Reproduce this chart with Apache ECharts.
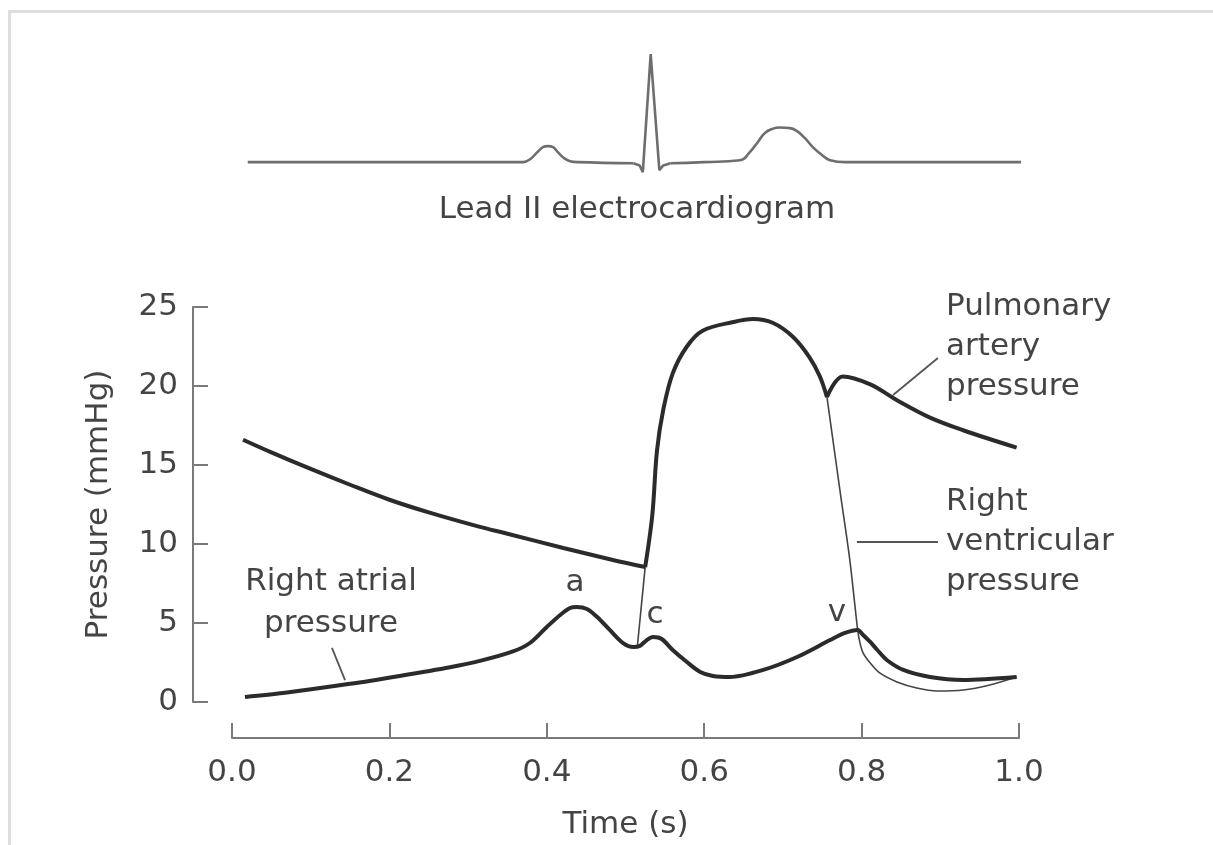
<!DOCTYPE html>
<html>
<head>
<meta charset="utf-8">
<script src="https://cdn.jsdelivr.net/npm/echarts@6/dist/echarts.min.js"></script>
<style>
html,body{margin:0;padding:0;background:#fff;}
#chart{width:1213px;height:845px;}
</style>
</head>
<body>
<div id="chart"></div>
<script>
// ---------- Data (time in s, pressure in mmHg, ECG in relative units) ----------
const xTickLabels = ['0.0', '0.2', '0.4', '0.6', '0.8', '1.0'];
const yTickLabels = ['0', '5', '10', '15', '20', '25'];

// Lead II ECG
const ecgPWave = [[0.020,0],[0.370,0],[0.379,0.028],[0.388,0.092],[0.395,0.138],[0.4015,0.147],[0.408,0.138],[0.414,0.092],[0.422,0.037],[0.4295,0.009],[0.440,0],[0.510,-0.01]];
const ecgQRS = [[0.510,-0.01],[0.518,-0.03],[0.522,-0.092],[0.532,0.99],[0.543,-0.073],[0.548,-0.03],[0.557,-0.01]];
const ecgTWave = [[0.557,-0.01],[0.600,0],[0.6455,0.018],[0.658,0.092],[0.668,0.183],[0.677,0.266],[0.686,0.303],[0.696,0.317],[0.709,0.312],[0.718,0.284],[0.728,0.220],[0.738,0.138],[0.750,0.064],[0.760,0.018],[0.779,0],[1.008,0]];

// Pulmonary artery pressure (diastolic run-off)
const paDiastole = [[0.014,16.6],[0.05,15.8],[0.1,14.75],[0.15,13.75],[0.2,12.8],[0.25,12.0],[0.315,11.08],[0.35,10.65],[0.421,9.75],[0.484,8.99],[0.525,8.54]];
// Ejection: right ventricle = pulmonary artery
const ejection = [[0.525,8.54],[0.534,11.8],[0.540,15.9],[0.548,18.5],[0.560,20.8],[0.578,22.5],[0.598,23.5],[0.637,24.05],[0.662,24.24],[0.687,24.0],[0.713,23.1],[0.734,21.8],[0.747,20.6],[0.756,19.3]];
// Pulmonary artery after the dicrotic notch
const paLate = [[0.756,19.3],[0.776,20.6],[0.811,20.1],[0.845,19.1],[0.887,18.0],[0.929,17.2],[0.997,16.1]];
// Right ventricular pressure (thin): isovolumic contraction & relaxation / filling
const rvContraction = [[0.515,3.48],[0.525,8.54]];
const rvRelaxation = [[0.756,19.3],[0.773,13.2],[0.785,9.0],[0.795,4.56],[0.798,3.73],[0.802,3.10],[0.811,2.47],[0.823,1.84],[0.845,1.27],[0.870,0.89],[0.896,0.70],[0.929,0.76],[0.963,1.08],[0.997,1.58]];
// Right atrial pressure
const raPressure = [[0.0165,0.32],[0.065,0.57],[0.150,1.15],[0.213,1.65],[0.277,2.2],[0.315,2.6],[0.357,3.2],[0.379,3.75],[0.400,4.75],[0.417,5.51],[0.4295,5.95],[0.438,6.01],[0.451,5.89],[0.464,5.38],[0.480,4.56],[0.497,3.73],[0.510,3.48],[0.518,3.54],[0.527,3.92],[0.535,4.11],[0.546,3.99],[0.560,3.29],[0.578,2.53],[0.595,1.90],[0.611,1.65],[0.633,1.58],[0.675,2.03],[0.718,2.85],[0.760,3.92],[0.779,4.37],[0.795,4.56],[0.802,4.24],[0.811,3.80],[0.820,3.29],[0.832,2.66],[0.853,2.03],[0.887,1.58],[0.929,1.39],[0.997,1.58]];

// Leader lines (data coordinates)
const paLeader = [[0.840,19.43],[0.897,21.77]];
const rvLeader = [[0.794,10.13],[0.897,10.13]];
const raLeader = [[0.127,3.42],[0.1436,1.39]];

// ---------- Chart ----------
const FONT = '"DejaVu Sans", "Liberation Sans", sans-serif';
const FS = 31;
const TXT = '#444';
const AX = '#7a7a7a';
const chart = echarts.init(document.getElementById('chart'), null, {renderer: 'canvas'});

function leader(coords) {
  return {
    silent: true, symbol: ['none','none'], animation: false,
    label: {show: false}, emphasis: {disabled: true},
    lineStyle: {color: '#555', width: 1.8, type: 'solid'},
    data: [[{coord: coords[0]}, {coord: coords[1]}]]
  };
}
function thick(data, extra) {
  return Object.assign({type: 'line', xAxisIndex: 1, yAxisIndex: 1, data, showSymbol: false, symbol: 'none',
    smooth: 0.35, lineStyle: {color: '#2b2b2b', width: 4}, z: 5, silent: true}, extra || {});
}
function ecg(data, smooth) {
  return {type: 'line', xAxisIndex: 0, yAxisIndex: 0, data, showSymbol: false, symbol: 'none', clip: false,
    smooth: smooth, lineStyle: {color: '#6e6e6e', width: 2.6}, silent: true};
}
function txt(text, x, y, align, lh) {
  return {type: 'text', x, y, silent: true, style: {text, font: FS + 'px ' + FONT, fill: TXT,
    align: align, textAlign: align, verticalAlign: 'middle', textVerticalAlign: 'middle', lineHeight: lh || 40}};
}

chart.setOption({
  animation: false,
  backgroundColor: '#fff',
  grid: [
    {left: 232, width: 787, top: 53, height: 131},
    {left: 232, width: 787, top: 307, height: 395}
  ],
  xAxis: [
    {gridIndex: 0, type: 'value', min: 0, max: 1, show: false},
    {gridIndex: 1, type: 'value', min: 0, max: 1, interval: 0.2, offset: 36, position: 'bottom',
     axisLine: {show: true, onZero: false, lineStyle: {color: AX, width: 2}},
     axisTick: {show: true, inside: true, length: 15, lineStyle: {color: AX, width: 2}},
     axisLabel: {margin: 19, color: TXT, fontSize: FS, fontFamily: FONT,
       formatter: (v) => xTickLabels[Math.round(v / 0.2)] || ''},
     splitLine: {show: false},
     name: 'Time (s)', nameLocation: 'middle', nameGap: 71,
     nameTextStyle: {color: TXT, fontSize: FS, fontFamily: FONT}}
  ],
  yAxis: [
    {gridIndex: 0, type: 'value', min: -0.2, max: 1.0, show: false},
    {gridIndex: 1, type: 'value', min: 0, max: 25, interval: 5, offset: 39, position: 'left',
     axisLine: {show: true, onZero: false, lineStyle: {color: AX, width: 2}},
     axisTick: {show: true, inside: true, length: 15, lineStyle: {color: AX, width: 2}},
     axisLabel: {margin: 15, color: TXT, fontSize: FS, fontFamily: FONT,
       formatter: (v) => yTickLabels[Math.round(v / 5)] || ''},
     splitLine: {show: false},
     name: 'Pressure (mmHg)', nameLocation: 'middle', nameGap: 79, nameRotate: 90,
     nameTextStyle: {color: TXT, fontSize: FS, fontFamily: FONT}}
  ],
  series: [
    ecg(ecgPWave, 0.4),
    ecg(ecgQRS, false),
    ecg(ecgTWave, 0.5),
    {type: 'line', xAxisIndex: 1, yAxisIndex: 1, data: rvContraction, showSymbol: false, symbol: 'none',
     lineStyle: {color: '#444', width: 1.6}, z: 3, silent: true},
    {type: 'line', xAxisIndex: 1, yAxisIndex: 1, data: rvRelaxation, showSymbol: false, symbol: 'none', smooth: 0.3,
     lineStyle: {color: '#444', width: 1.6}, z: 3, silent: true, markLine: leader(rvLeader)},
    thick(paDiastole),
    thick(ejection),
    thick(paLate, {markLine: leader(paLeader)}),
    thick(raPressure, {smooth: 0.3, markLine: leader(raLeader)})
  ],
  graphic: [
    {type: 'line', silent: true, shape: {x1: 8, y1: 11.5, x2: 1213, y2: 11.5}, style: {stroke: '#dedede', lineWidth: 3}},
    {type: 'line', silent: true, shape: {x1: 9.5, y1: 10, x2: 9.5, y2: 845}, style: {stroke: '#dedede', lineWidth: 3}},
    txt('Lead II electrocardiogram', 637, 210, 'center'),
    txt('a', 575, 583, 'center'),
    txt('c', 655, 615, 'center'),
    txt('v', 837, 613, 'center'),
    txt('Pulmonary\nartery\npressure', 946, 347, 'left'),
    txt('Right\nventricular\npressure', 946, 542, 'left'),
    txt('Right atrial\npressure', 331, 603, 'center', 42)
  ]
});
</script>
</body>
</html>
